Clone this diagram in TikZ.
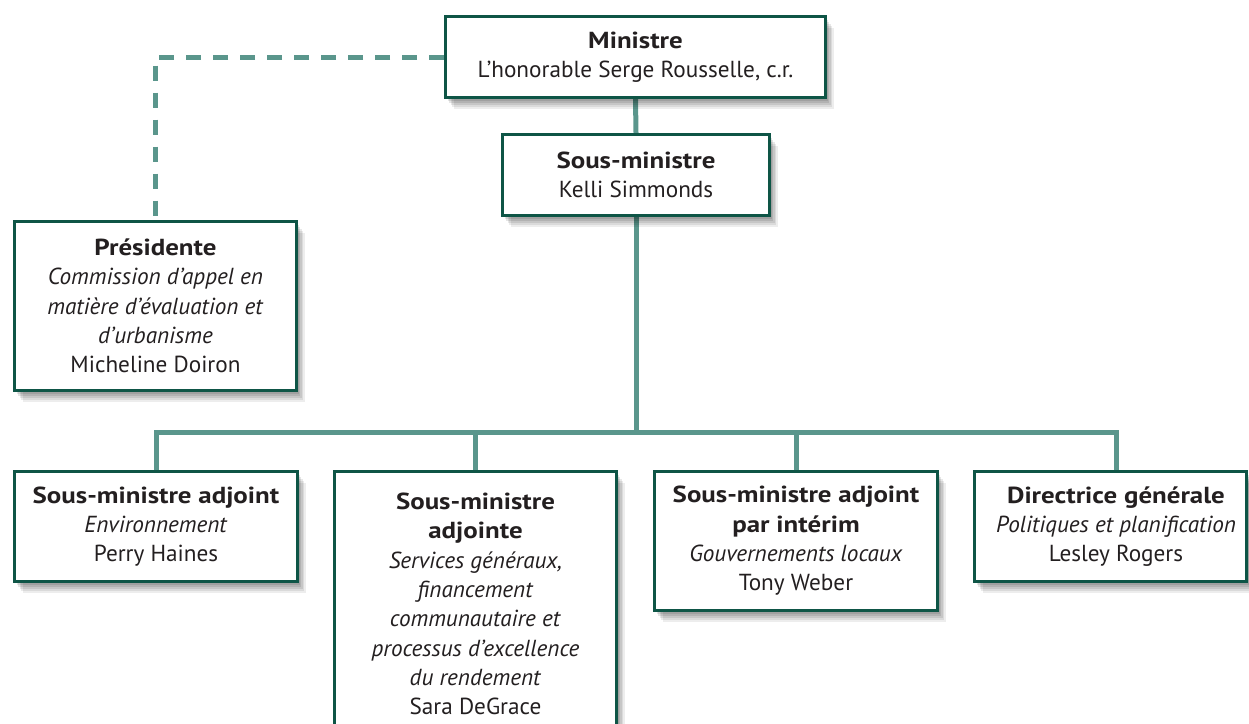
\documentclass[tikz,border=0pt]{standalone}
\usepackage{fontspec}
\setmainfont{PT Sans}[BoldFeatures={FakeStretch=1.16}]
\usetikzlibrary{shadows,backgrounds}
\definecolor{tealline}{HTML}{5A968C}
\definecolor{boxborder}{HTML}{0E5546}
\definecolor{ink}{HTML}{231F20}
\tikzset{
  orgbox/.style={draw=boxborder, line width=3pt, fill=white, align=center,
    text=ink, inner sep=0pt, anchor=center,
    font=\fontsize{23.2pt}{29.3pt}\selectfont,
    drop shadow={shadow xshift=8pt, shadow yshift=-11pt, opacity=0.07, fill=black},
    drop shadow={shadow xshift=6.5pt, shadow yshift=-9pt, opacity=0.08, fill=black},
    drop shadow={shadow xshift=5pt, shadow yshift=-7pt, opacity=0.09, fill=black},
    drop shadow={shadow xshift=3.5pt, shadow yshift=-5pt, opacity=0.1, fill=black},
    drop shadow={shadow xshift=2pt, shadow yshift=-3pt, opacity=0.1, fill=black}},
  conn/.style={draw=tealline, line width=5pt},
  dashconn/.style={draw=tealline, line width=5pt, dash pattern=on 15pt off 12pt}
}
\begin{document}
\begin{tikzpicture}[x=1pt, y=-1pt]
\useasboundingbox (0,0) rectangle (1249,723);
\clip (0,0) rectangle (1249,723);

\node[orgbox, minimum width=380pt, minimum height=81pt] (min) at (635.5,57)
  {\textbf{Ministre}\\L’honorable Serge Rousselle, c.r.};
\node[orgbox, minimum width=267pt, minimum height=81pt] (sm) at (636,175)
  {\textbf{Sous-ministre}\\Kelli Simmonds};
\node[orgbox, minimum width=282pt, minimum height=169pt] (pres) at (155.5,306)
  {\textbf{Présidente}\\\textit{Commission d’appel en}\\\textit{matière d’évaluation et}\\\textit{d’urbanisme}\\Micheline Doiron};
\node[orgbox, minimum width=283pt, minimum height=110pt] (a1) at (156,526.5)
  {\textbf{Sous-ministre adjoint}\\\textit{Environnement}\\Perry Haines};
\node[orgbox, minimum width=282pt, minimum height=265pt] (a2) at (475.5,604)
  {\textbf{Sous-ministre}\\\textbf{adjointe}\\\textit{Services généraux,}\\\textit{financement}\\\textit{communautaire et}\\\textit{processus d’excellence}\\\textit{du rendement}\\Sara DeGrace};
\node[orgbox, minimum width=283pt, minimum height=139pt] (a3) at (796,541)
  {\textbf{Sous-ministre adjoint}\\\textbf{par intérim}\\\textit{Gouvernements locaux}\\Tony Weber};
\node[orgbox, minimum width=272pt, minimum height=110pt] (a4) at (1110.5,526.5)
  {\hspace*{11pt}\textbf{Directrice générale}\\\hspace*{11pt}\textit{Politiques et planification}\\\hspace*{11pt}Lesley Rogers};

\coordinate (bus) at (636,432);
\coordinate (a4top) at (1116,470);

\begin{scope}[on background layer]
  \draw[dashconn] (min.west) -| (pres.north);
  \draw[conn] (min.south) -- (sm.north);
  \draw[conn] (sm.south) -- (bus);
  \draw[conn] (a1.north) |- (bus) -| (a4top);
  \draw[conn] (a2.north) -- (a2.north |- bus);
  \draw[conn] (a3.north) -- (a3.north |- bus);
\end{scope}
\end{tikzpicture}
\end{document}
